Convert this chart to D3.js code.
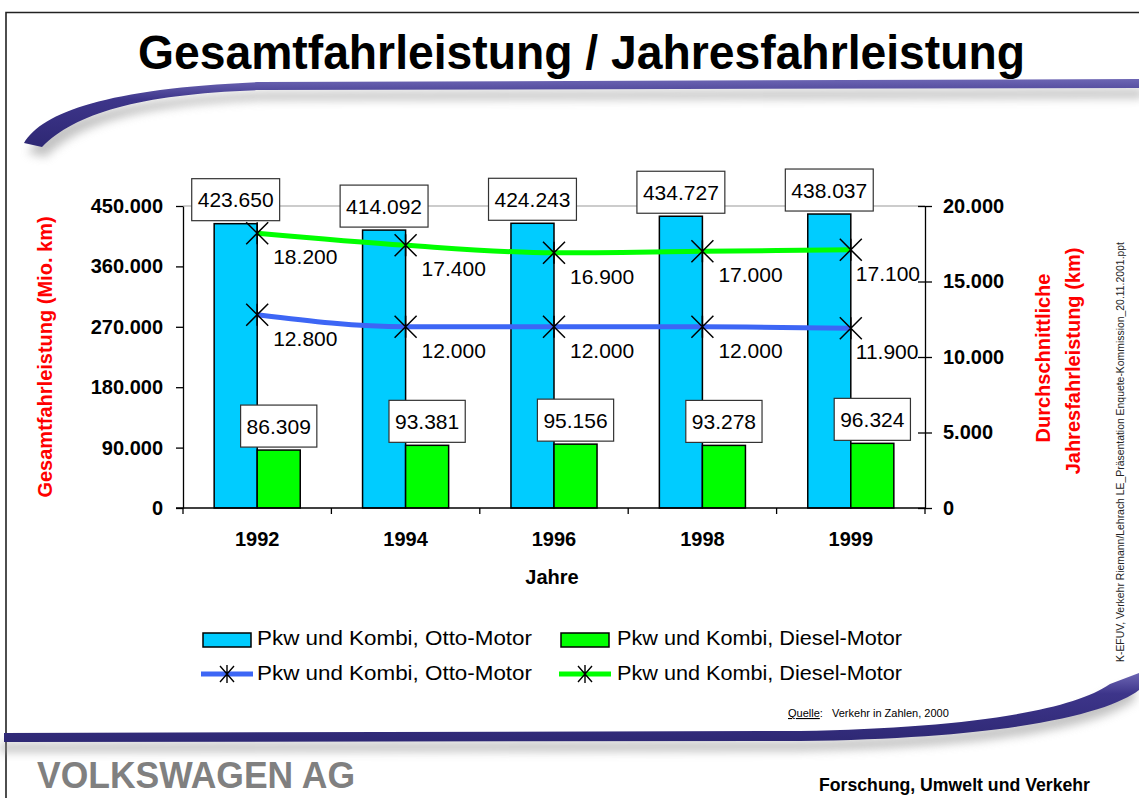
<!DOCTYPE html>
<html><head><meta charset="utf-8">
<script src="https://cdn.jsdelivr.net/npm/d3@7"></script>
<style>body{margin:0;background:#fff}svg{display:block}</style>
</head><body><svg id="c" width="1139" height="798"></svg>
<script>
// ---- data ----
const years = ["1992", "1994", "1996", "1998", "1999"];
const ottoTotal = [423650, 414092, 424243, 434727, 438037];     // Mio. km
const dieselTotal = [86309, 93381, 95156, 93278, 96324];        // Mio. km
const ottoAnnual = [12800, 12000, 12000, 12000, 11900];         // km
const dieselAnnual = [18200, 17400, 16900, 17000, 17100];       // km
const leftTicks = [0, 90000, 180000, 270000, 360000, 450000];
const rightTicks = [0, 5000, 10000, 15000, 20000];
const seriesNames = ["Pkw und Kombi, Otto-Motor", "Pkw und Kombi, Diesel-Motor"];

const FONT = "'Liberation Sans', Arial, Helvetica, sans-serif";
const BLUE_BAR = "#00CCFF", GREEN_BAR = "#00FF00", BLUE_LINE = "#3D66F5", GREEN_LINE = "#00FF00";
const de = d3.formatLocale({decimal: ",", thousands: ".", grouping: [3], currency: ["", "€"]});
const fmt = de.format(",d");

const svg = d3.select("#c").style("font-family", FONT);
const defs = svg.append("defs");
defs.append("filter").attr("id", "blur").attr("x", "-10%").attr("y", "-50%").attr("width", "120%").attr("height", "200%")
  .append("feGaussianBlur").attr("stdDeviation", 5);
const g1 = defs.append("linearGradient").attr("id", "band").attr("x1", 0).attr("x2", 0).attr("y1", 0).attr("y2", 1);
g1.append("stop").attr("offset", "0%").attr("stop-color", "#6d66b4");
g1.append("stop").attr("offset", "30%").attr("stop-color", "#3d358a");
g1.append("stop").attr("offset", "100%").attr("stop-color", "#2e2874");

// ---- slide frame & decorative swooshes ----
svg.append("path").attr("d", "M6,798V12.5H1139").attr("fill", "none").attr("stroke", "#222").attr("stroke-width", 1.6);

const topBand = "M24,143 C42,112 110,88 260,82 L1139,79 L1139,88 L260,90 C140,94 75,113 42,147 Z";
const botBand = "M4,733 L800,731 C960,728 1070,712 1110,684 L1139,673 L1139,690 C1110,712 1020,738 800,741 L4,742 Z";
svg.append("path").attr("d", topBand).attr("transform", "translate(4,10)").attr("fill", "#9a9a9a").attr("opacity", 0.6).attr("filter", "url(#blur)");
svg.append("path").attr("d", botBand).attr("transform", "translate(-4,10)").attr("fill", "#9a9a9a").attr("opacity", 0.6).attr("filter", "url(#blur)");
svg.append("path").attr("d", topBand).attr("fill", "url(#band)");
svg.append("path").attr("d", botBand).attr("fill", "url(#band)");

// ---- title ----
svg.append("text").attr("x", 138).attr("y", 69).attr("font-size", 49).attr("font-weight", "bold")
  .attr("textLength", 887).attr("lengthAdjust", "spacingAndGlyphs").text("Gesamtfahrleistung / Jahresfahrleistung");

// ---- scales ----
const x = d3.scaleBand(years, [183, 925]).paddingInner(0.42).paddingOuter(0.21);
const yL = d3.scaleLinear([0, 450000], [508, 206]);
const yR = d3.scaleLinear([0, 20000], [508, 206]);
const bw = x.bandwidth() / 2;
const cx = d => x(d) + x.bandwidth() / 2;

// gridline at top
svg.append("line").attr("x1", 183).attr("x2", 925).attr("y1", yL(450000)).attr("y2", yL(450000))
  .attr("stroke", "#999").attr("stroke-width", 1.2);

// ---- bars ----
const bars = svg.append("g");
bars.selectAll(".bo").data(years).join("rect")
  .attr("x", d => x(d)).attr("y", (d, i) => yL(ottoTotal[i])).attr("width", bw)
  .attr("height", (d, i) => yL(0) - yL(ottoTotal[i]))
  .attr("fill", BLUE_BAR).attr("stroke", "#000").attr("stroke-width", 1.5);
bars.selectAll(".bd").data(years).join("rect")
  .attr("x", d => x(d) + bw).attr("y", (d, i) => yL(dieselTotal[i])).attr("width", bw)
  .attr("height", (d, i) => yL(0) - yL(dieselTotal[i]))
  .attr("fill", GREEN_BAR).attr("stroke", "#000").attr("stroke-width", 1.5);

// ---- axes ----
const axL = svg.append("g").attr("transform", "translate(183,0)")
  .call(d3.axisLeft(yL).tickValues(leftTicks).tickFormat(fmt).tickSize(7).tickSizeOuter(0).tickPadding(13));
axL.selectAll("text").attr("font-size", 20).attr("font-weight", "bold").attr("font-family", FONT).attr("fill", "#000");
axL.selectAll("line,path").attr("stroke", "#000").attr("stroke-width", 1.3);

const axR = svg.append("g").attr("transform", "translate(925,0)")
  .call(d3.axisRight(yR).tickValues(rightTicks).tickFormat(fmt).tickSize(7).tickSizeOuter(0).tickPadding(11));
axR.selectAll(".tick line").attr("x1", -7);
axR.selectAll("text").attr("font-size", 20).attr("font-weight", "bold").attr("font-family", FONT).attr("fill", "#000");
axR.selectAll("line,path").attr("stroke", "#000").attr("stroke-width", 1.3);

// x axis
svg.append("line").attr("x1", 176).attr("x2", 925).attr("y1", 508).attr("y2", 508).attr("stroke", "#000").attr("stroke-width", 1.3);
const bounds = years.map(d => x(d) - x.step() * x.paddingInner() / 2).concat([925]);
svg.selectAll(".xt").data(bounds).join("line")
  .attr("x1", d => d).attr("x2", d => d).attr("y1", 508).attr("y2", 514).attr("stroke", "#000").attr("stroke-width", 1.3);
svg.selectAll(".xl").data(years).join("text")
  .attr("x", d => cx(d)).attr("y", 546).attr("text-anchor", "middle")
  .attr("font-size", 20).attr("font-weight", "bold").text(d => d);
svg.append("text").attr("x", 552).attr("y", 584).attr("text-anchor", "middle")
  .attr("font-size", 20).attr("font-weight", "bold").text("Jahre");

// axis titles
svg.append("text").attr("transform", "translate(52,357) rotate(-90)").attr("text-anchor", "middle")
  .attr("font-size", 20).attr("font-weight", "bold").attr("fill", "#FF0000").text("Gesamtfahrleistung (Mio. km)");
svg.append("text").attr("transform", "translate(1050,358) rotate(-90)").attr("text-anchor", "middle")
  .attr("font-size", 20).attr("font-weight", "bold").attr("fill", "#FF0000").text("Durchschnittliche");
svg.append("text").attr("transform", "translate(1080,361) rotate(-90)").attr("text-anchor", "middle")
  .attr("font-size", 20).attr("font-weight", "bold").attr("fill", "#FF0000").text("Jahresfahrleistung (km)");

// ---- bar value boxes ----
function boxLabel(val, xc, yTop) {
  const t = svg.append("text").attr("x", xc).attr("font-size", 21).attr("text-anchor", "middle").text(fmt(val));
  const w = t.node().getComputedTextLength() + 12;
  const h = 42, yb = yTop - 3;
  svg.insert("rect", () => t.node()).attr("x", xc - w / 2).attr("y", yb - h).attr("width", w).attr("height", h)
    .attr("fill", "#fff").attr("stroke", "#333").attr("stroke-width", 1.2);
  t.attr("y", yb - h / 2 + 7.5);
}
years.forEach((d, i) => {
  boxLabel(ottoTotal[i], x(d) + bw / 2, yL(ottoTotal[i]));
  boxLabel(dieselTotal[i], x(d) + bw * 1.5, yL(dieselTotal[i]));
});

// ---- lines ----
const star = s => `M${-s},${-s}L${s},${s}M${-s},${s}L${s},${-s}M0,${-s}V${s}`;
function series(vals, color) {
  const line = d3.line().x((v, i) => cx(years[i])).y(v => yR(v)).curve(d3.curveMonotoneX);
  svg.append("path").attr("d", line(vals)).attr("fill", "none").attr("stroke", color).attr("stroke-width", 5);
  svg.selectAll(null).data(vals).join("path")
    .attr("transform", (v, i) => `translate(${cx(years[i])},${yR(v)})`)
    .attr("d", star(11)).attr("stroke", "#000").attr("stroke-width", 1.5).attr("fill", "none");
  svg.selectAll(null).data(vals).join("text")
    .attr("x", (v, i) => cx(years[i]) + (i === vals.length - 1 ? 5 : 16))
    .attr("y", v => yR(v) + 31).attr("font-size", 21).text(v => fmt(v));
}
series(ottoAnnual, BLUE_LINE);
series(dieselAnnual, GREEN_LINE);

// ---- legend ----
const leg = [
  {x: 203, tx: 257, tw: 275, col: BLUE_BAR, line: BLUE_LINE, name: seriesNames[0]},
  {x: 561, tx: 617, tw: 285, col: GREEN_BAR, line: GREEN_LINE, name: seriesNames[1]}
];
leg.forEach(l => {
  svg.append("rect").attr("x", l.x).attr("y", 633).attr("width", 48).attr("height", 14)
    .attr("fill", l.col).attr("stroke", "#000").attr("stroke-width", 1.5);
  svg.append("text").attr("x", l.tx).attr("y", 645).attr("font-size", 21)
    .attr("textLength", l.tw).attr("lengthAdjust", "spacingAndGlyphs").text(l.name);
  svg.append("line").attr("x1", l.x - 2).attr("x2", l.x + 50).attr("y1", 674).attr("y2", 674)
    .attr("stroke", l.line).attr("stroke-width", 5);
  svg.append("path").attr("transform", `translate(${l.x + 24},674)`).attr("d", "M-7,-8L7,8M-7,8L7,-8M0,-9V9")
    .attr("stroke", "#000").attr("stroke-width", 1.4).attr("fill", "none");
  svg.append("text").attr("x", l.tx).attr("y", 680).attr("font-size", 21)
    .attr("textLength", l.tw).attr("lengthAdjust", "spacingAndGlyphs").text(l.name);
});

// ---- source & footer ----
const q = svg.append("text").attr("x", 788).attr("y", 717).attr("font-size", 11);
q.append("tspan").attr("text-decoration", "underline").text("Quelle");
q.append("tspan").attr("xml:space", "preserve").text(":   Verkehr in Zahlen, 2000");

svg.append("text").attr("transform", "translate(1124,662) rotate(-90)").attr("font-size", 10.5)
  .attr("textLength", 420).attr("lengthAdjust", "spacingAndGlyphs").attr("fill", "#222")
  .text("K-EFUV, Verkehr  Riemann/Lehrach  LE_Präsentation Enquete-Kommission_20.11.2001.ppt");

svg.append("text").attr("x", 37).attr("y", 788).attr("font-size", 37).attr("font-weight", "bold")
  .attr("fill", "#808080").attr("textLength", 318).attr("lengthAdjust", "spacingAndGlyphs").text("VOLKSWAGEN AG");
svg.append("text").attr("x", 819).attr("y", 791).attr("font-size", 19).attr("font-weight", "bold")
  .attr("textLength", 271).attr("lengthAdjust", "spacingAndGlyphs").text("Forschung, Umwelt und Verkehr");
</script></body></html>
